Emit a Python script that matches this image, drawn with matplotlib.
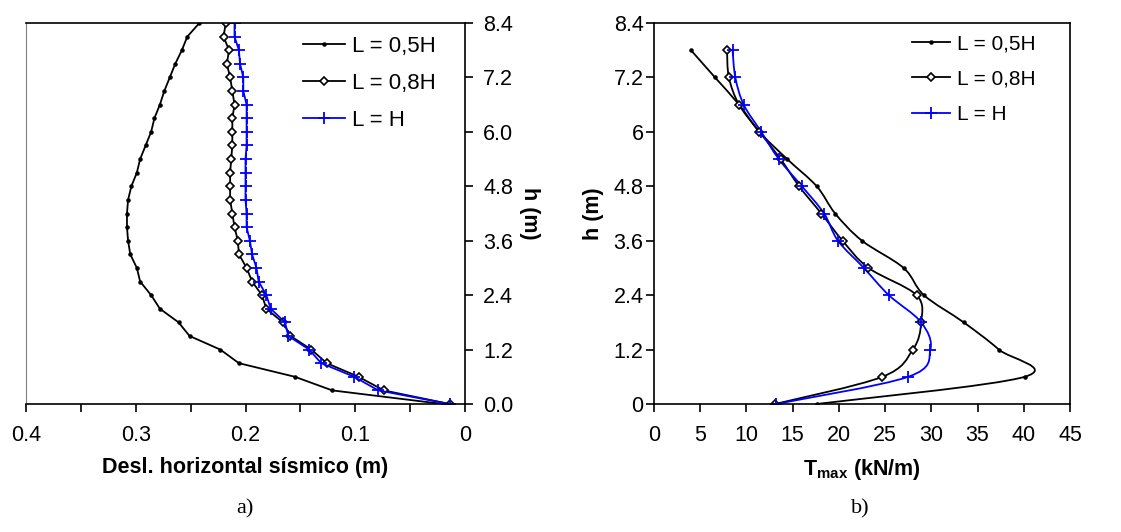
import matplotlib
matplotlib.use("Agg")
import matplotlib.pyplot as plt
from matplotlib.path import Path
from matplotlib.patches import PathPatch
from matplotlib.lines import Line2D
import numpy as np

plt.rcParams['font.family'] = ['Liberation Sans', 'DejaVu Sans']
plt.rcParams['mathtext.fontset'] = 'custom'
plt.rcParams['mathtext.rm'] = 'Liberation Sans'
plt.rcParams['mathtext.bf'] = 'Liberation Sans:bold'

# ---------------- data: panel a) ----------------
h_a = [0.0, 0.3, 0.6, 0.9, 1.2, 1.5, 1.8, 2.1, 2.4, 2.7, 3.0, 3.3, 3.6, 3.9, 4.2,
       4.5, 4.8, 5.1, 5.4, 5.7, 6.0, 6.3, 6.6, 6.9, 7.2, 7.5, 7.8, 8.1, 8.4]
desl_05H = [0.020, 0.121, 0.155, 0.206, 0.223, 0.251, 0.261, 0.278, 0.286, 0.296,
            0.299, 0.305, 0.307, 0.308, 0.308, 0.307, 0.304, 0.299, 0.296, 0.291,
            0.286, 0.283, 0.278, 0.274, 0.269, 0.264, 0.258, 0.253, 0.242]
desl_08H = [0.014, 0.074, 0.097, 0.126, 0.140, 0.159, 0.166, 0.181, 0.185, 0.194,
            0.199, 0.206, 0.207, 0.210, 0.212, 0.214, 0.214, 0.214, 0.213, 0.212,
            0.212, 0.212, 0.210, 0.212, 0.214, 0.217, 0.215, 0.220, 0.218]
desl_H = [0.014, 0.079, 0.101, 0.131, 0.142, 0.161, 0.164, 0.177, 0.181, 0.188,
          0.190, 0.194, 0.196, 0.199, 0.199, 0.200, 0.200, 0.200, 0.200, 0.199,
          0.199, 0.199, 0.199, 0.202, 0.202, 0.205, 0.206, 0.210, 0.210]

# ---------------- data: panel b) ----------------
h_b = [0.0, 0.6, 1.2, 1.8, 2.4, 3.0, 3.6, 4.2, 4.8, 5.4, 6.0, 6.6, 7.2, 7.8]
T_05H = [17.6, 40.1, 37.3, 33.5, 29.2, 27.0, 22.5, 19.6, 17.6, 14.4, 11.4, 9.2, 6.6, 4.0]
T_08H = [13.1, 24.7, 28.0, 28.9, 28.4, 23.2, 20.4, 18.1, 15.7, 13.7, 11.4, 9.2, 8.1, 7.9]
T_H = [13.2, 27.5, 29.9, 28.9, 25.4, 22.7, 19.9, 18.4, 16.0, 13.5, 11.6, 9.7, 8.8, 8.5]

labels = ['L = 0,5H', 'L = 0,8H', 'L = H']
yticks = [0.0, 1.2, 2.4, 3.6, 4.8, 6.0, 7.2, 8.4]
ytick_labels_a = ['0.0', '1.2', '2.4', '3.6', '4.8', '6.0', '7.2', '8.4']
ytick_labels_b = ['0', '1.2', '2.4', '3.6', '4.8', '6', '7.2', '8.4']
xticks_a = [0.4, 0.35, 0.3, 0.25, 0.2, 0.15, 0.1, 0.05, 0.0]
xtick_labels_a = ['0.4', '', '0.3', '', '0.2', '', '0.1', '', '0']
xticks_b = [0, 5, 10, 15, 20, 25, 30, 35, 40, 45]

BLUE = '#0000FF'
styles = [
    dict(color='black', marker='.', markersize=4.5, markerfacecolor='black'),
    dict(color='black', marker='D', markersize=4.5, markerfacecolor='white',
         markeredgecolor='black', markeredgewidth=1.2),
    dict(color=BLUE, marker='+', markersize=8.5, markeredgewidth=1.3),
]

TICK_FS = 15.5
LABEL_FS = 15.5
W, H = 1121, 532

fig = plt.figure(figsize=(W / 100, H / 100), dpi=100)
axA = fig.add_axes([26 / W, 1 - 404 / H, 439 / W, 381 / H])
axB = fig.add_axes([654 / W, 1 - 404 / H, 416 / W, 381 / H])


def smooth_path(x, y):
    x = np.asarray(x, float)
    y = np.asarray(y, float)
    n = len(x)
    verts = [(x[0], y[0])]
    codes = [Path.MOVETO]
    for i in range(n - 1):
        i0 = max(i - 1, 0)
        i3 = min(i + 2, n - 1)
        c1 = (x[i] + (x[i + 1] - x[i0]) / 6.0, y[i] + (y[i + 1] - y[i0]) / 6.0)
        c2 = (x[i + 1] - (x[i3] - x[i]) / 6.0, y[i + 1] - (y[i3] - y[i]) / 6.0)
        verts += [c1, c2, (x[i + 1], y[i + 1])]
        codes += [Path.CURVE4] * 3
    return Path(verts, codes)


# ---- panel a ----
for vals, st, lab in zip([desl_05H, desl_08H, desl_H], styles, labels):
    axA.plot(vals, h_a, linewidth=1.3, label=lab, **st)
axA.set_xlim(0.4, 0.0)
axA.set_ylim(0, 8.4)
axA.set_xticks(xticks_a)
axA.set_xticklabels(xtick_labels_a)
axA.set_yticks(yticks)
axA.set_yticklabels(ytick_labels_a)
axA.yaxis.tick_right()
axA.yaxis.set_label_position('right')
axA.tick_params(direction='out', length=6, width=1.2, labelsize=TICK_FS)
axA.tick_params(axis='x', pad=9)
axA.tick_params(axis='y', pad=7)
axA.set_xlabel('Desl. horizontal sísmico (m)', fontsize=LABEL_FS, fontweight='bold',
               labelpad=8)
axA.set_ylabel('h (m)', fontsize=LABEL_FS, fontweight='bold', rotation=270,
               labelpad=4, va='bottom')
for s in ['top', 'right', 'bottom']:
    axA.spines[s].set_linewidth(1.2)
axA.spines['left'].set_color('#808080')
axA.legend(loc='upper left', bbox_to_anchor=(303 / W, 1 - 36 / H),
           bbox_transform=fig.transFigure, frameon=False, fontsize=16,
           handlelength=1.9, handletextpad=0.32, labelspacing=0.72, numpoints=1,
           borderpad=0, borderaxespad=0)

# ---- panel b ----
handles = []
for vals, st, lab in zip([T_05H, T_08H, T_H], styles, labels):
    patch = PathPatch(smooth_path(vals, h_b), facecolor='none', edgecolor=st['color'],
                      linewidth=1.3)
    axB.add_patch(patch)
    mk = {k: v for k, v in st.items() if k != 'color'}
    axB.plot(vals, h_b, linestyle='none', color=st['color'], **mk)
    handles.append(Line2D([], [], linewidth=1.3, label=lab, **st))
axB.set_xlim(0, 45)
axB.set_ylim(0, 8.4)
axB.set_xticks(xticks_b)
axB.set_yticks(yticks)
axB.set_yticklabels(ytick_labels_b)
axB.tick_params(direction='out', length=6, width=1.2, labelsize=TICK_FS)
axB.tick_params(axis='x', pad=9)
axB.tick_params(axis='y', pad=1.5)
axB.set_xlabel(r'$\mathbf{T_{max}}$ (kN/m)', fontsize=LABEL_FS, fontweight='bold',
               labelpad=8)
axB.set_ylabel('h (m)', fontsize=LABEL_FS, fontweight='bold', labelpad=7)
for s in axB.spines.values():
    s.set_linewidth(1.2)
axB.legend(handles=handles, loc='upper left', bbox_to_anchor=(912 / W, 1 - 34 / H),
           bbox_transform=fig.transFigure, frameon=False, fontsize=15,
           handlelength=1.83, handletextpad=0.32, labelspacing=0.8, numpoints=1,
           borderpad=0, borderaxespad=0)

fig.text(245 / W, 1 - 509 / H, 'a)', fontsize=16, family='Liberation Serif',
         ha='center', va='center')
fig.text(860 / W, 1 - 509 / H, 'b)', fontsize=16, family='Liberation Serif',
         ha='center', va='center')

fig.savefig('out.png', dpi=100)
